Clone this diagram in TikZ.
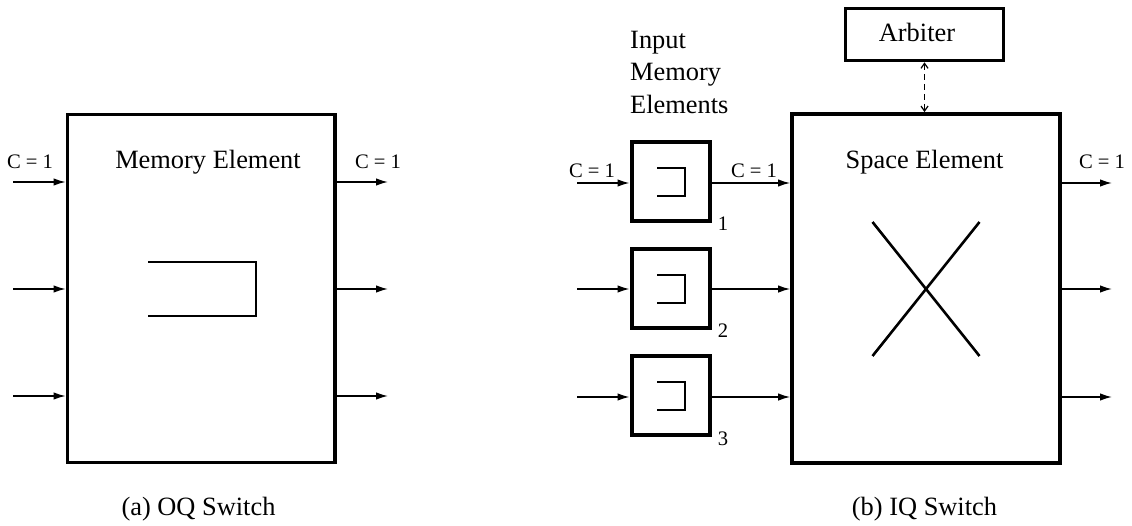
\documentclass[tikz,border=0pt]{standalone}
\usepackage{fontspec}
\setmainfont{Liberation Serif}
\usetikzlibrary{arrows.meta,calc}
\begin{document}
\begin{tikzpicture}[x=1pt,y=-1pt,
  bigtext/.style={font=\fontsize{26.4}{32}\selectfont, inner sep=0pt},
  smalltext/.style={font=\fontsize{20.6}{24}\selectfont, inner sep=0pt},
  thickbox/.style={draw, line width=3.8pt, inner sep=0pt},
  arr/.style={line width=1.4pt, -{Latex[length=12pt,width=7.5pt]}},
  bracket/.style={line width=2.5pt},
  crossline/.style={line width=2.6pt}]
\useasboundingbox (0,0) rectangle (1132,525);
% ---------- (a) OQ switch ----------
\node[thickbox, minimum width=267.5pt, minimum height=348pt] (L) at (201.25,288.5) {};
\node[bigtext, anchor=base] (Ltitle) at (208,168) {Memory Element};
\node[smalltext, anchor=base] (Lcin) at (30,168) {C = 1};
\node[smalltext, anchor=base] (Lcout) at (378,168) {C = 1};
\coordinate (Li1) at (13,182);
\coordinate (Li2) at (13,289);
\coordinate (Li3) at (13,396);
\coordinate (Lo1) at (388,182);
\coordinate (Lo2) at (388,289);
\coordinate (Lo3) at (388,396);
\foreach \i in {1,2,3} {
  \draw[arr] (Li\i) -- (Li\i -| L.west);
  \draw[arr] (Lo\i -| L.east) -- (Lo\i);
}
\draw[bracket] (148,262) -- (256,262) -- (256,316) -- (148,316);
\node[bigtext, anchor=base] (capa) at (198.5,515) {(a) OQ Switch};
% ---------- (b) IQ switch ----------
\node[thickbox, minimum width=268pt, minimum height=349pt] (R) at (926,288.5) {};
\node[bigtext, anchor=base] (Rtitle) at (924.5,168) {Space Element};
\node[thickbox, line width=3.6pt, minimum width=158pt, minimum height=52pt] (arb) at (924.5,34.5) {};
\node[bigtext, anchor=base] (arbtext) at (917,41) {Arbiter};
\draw[line width=1.2pt, dash pattern=on 6pt off 4pt,
  {Straight Barb[length=5pt,width=7pt]}-{Straight Barb[length=5pt,width=7pt]}]
  (arb.south) -- (arb.south |- R.north);
% small memory boxes
\node[thickbox, line width=4pt, minimum width=78pt, minimum height=79pt] (s1) at (670.5,181.5) {};
\node[thickbox, line width=4pt, minimum width=78pt, minimum height=79pt] (s2) at (670.5,288.5) {};
\node[thickbox, line width=4pt, minimum width=78pt, minimum height=79pt] (s3) at (670.5,395.5) {};
\foreach \i in {1,2,3} {
  \draw[bracket] ($(s\i.center)+(-13.5,-13.5)$) -- ($(s\i.center)+(14.5,-13.5)$)
     -- ($(s\i.center)+(14.5,14.5)$) -- ($(s\i.center)+(-13.5,14.5)$);
}
\node[smalltext, anchor=base] (n1) at (723,230) {1};
\node[smalltext, anchor=base] (n2) at (723,337) {2};
\node[smalltext, anchor=base] (n3) at (723,445) {3};
\node[bigtext, anchor=base west] (ime1) at (630,48) {Input};
\node[bigtext, anchor=base west] (ime2) at (630,80) {Memory};
\node[bigtext, anchor=base west] (ime3) at (630,113) {Elements};
\node[smalltext, anchor=base] (Rcin) at (592,177) {C = 1};
\node[smalltext, anchor=base] (Rcmid) at (754,177) {C = 1};
\node[smalltext, anchor=base] (Rcout) at (1102,168) {C = 1};
\coordinate (Ri1) at (577,183);
\coordinate (Ri2) at (577,289);
\coordinate (Ri3) at (577,397);
\coordinate (Ro1) at (1112,183);
\coordinate (Ro2) at (1112,289);
\coordinate (Ro3) at (1112,397);
\foreach \i in {1,2,3} {
  \draw[arr] (Ri\i) -- (Ri\i -| s\i.west);
  \draw[arr] (Ri\i -| s\i.east) -- (Ri\i -| R.west);
  \draw[arr] (Ro\i -| R.east) -- (Ro\i);
}
\draw[crossline] ($(R.center)+(-53.5,-66.5)$) -- ($(R.center)+(53.5,67.5)$);
\draw[crossline] ($(R.center)+(53.5,-66.5)$) -- ($(R.center)+(-53.5,67.5)$);
\node[bigtext, anchor=base] (capb) at (924.5,515) {(b) IQ Switch};
\end{tikzpicture}
\end{document}
